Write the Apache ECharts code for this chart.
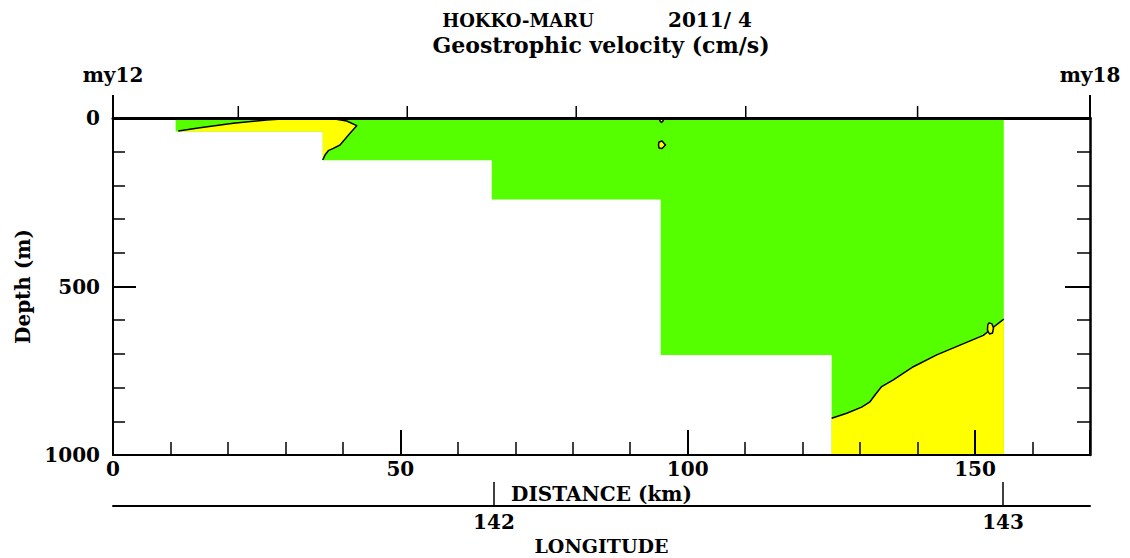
<!DOCTYPE html>
<html>
<head>
<meta charset="utf-8">
<script src="https://cdn.jsdelivr.net/npm/echarts@6/dist/echarts.min.js"></script>
<style>
  html, body { margin: 0; padding: 0; background: #fff; }
  #chart { width: 1130px; height: 558px; }
</style>
</head>
<body>
<div id="chart"></div>
<script>
// Stations along the section (distance from my12, km)
const stationNames = ['my12', 'my13', 'my14', 'my15', 'my16', 'my17', 'my18'];
const stationKm = [0, 21.8, 51.2, 80.6, 110.1, 140.0, 170.0];

// Section boundaries between station columns (km) and bottom depth of each column (m)
const edgeKm = [10.9, 36.5, 65.9, 95.3, 125.05, 155.0];
const bottomM = [40, 125, 242, 703, 1000];

// Zero contour bounding the westward flow near the surface
const westNegKm = [11.36, 15.14, 20.93, 26.74, 31.37, 33.70, 38.33, 40.67, 42.41, 41.24, 39.50, 38.33, 37.46, 36.89, 36.49];
const westNegM  = [38.6, 28.8, 15.7, 5.9, 0.9, 0, 2, 8.9, 22.8, 45.4, 80, 90, 97, 110, 124.6];

// Zero contour bounding the westward flow at depth
const deepNegKm = [125.05, 127.67, 130.27, 131.71, 132.59, 133.75, 135.78, 139.26, 143.33, 147.38, 151.44, 153.18, 155.0];
const deepNegM  = [891, 876, 858, 842, 822, 797, 777, 738, 703, 674, 645, 621, 597];

// Small closed zero contours
const eddySurfKm = [95.09, 95.87, 95.70, 95.44, 95.18];
const eddySurfM  = [0, 0, 8.9, 13.4, 8.9];
const eddyMidKm  = [95.01, 95.53, 96.14, 95.53, 95.01, 94.92];
const eddyMidM   = [71.2, 68.2, 80.1, 90.5, 89.0, 80.1];
const eddyDeepKm = [152.43, 152.95, 153.21, 153.04, 152.51, 152.16, 152.21];
const eddyDeepM  = [608, 611, 623, 638, 641, 629, 614];

// Longitude scale under the distance axis
const lonRange = [141.2515, 143.1709];
const lonTicks = [142, 143];

const GREEN = '#55ff00';
const YELLOW = '#ffff00';
const FONT = 'DejaVu Serif';

// Water-column outline built from column edges and bottom depths
const sectionKm = [edgeKm[0], edgeKm[edgeKm.length - 1]];
const sectionM = [0, 0];
for (let i = bottomM.length - 1; i >= 0; i--) {
  sectionKm.push(edgeKm[i + 1], edgeKm[i]);
  sectionM.push(bottomM[i], bottomM[i]);
}

// Westward patch near the surface: contour closed along the bottom
const westFillKm = westNegKm.concat([edgeKm[1], edgeKm[1], westNegKm[0]]);
const westFillM = westNegM.concat([bottomM[1], bottomM[0], bottomM[0]]);

// Westward patch at depth: contour closed along the bottom
const deepFillKm = deepNegKm.concat([edgeKm[5], edgeKm[4]]);
const deepFillM = deepNegM.concat([1000, 1000]);

const endStations = [stationKm[0], stationKm[stationKm.length - 1]];
const innerStations = stationKm.slice(1, -1);

function shapeSeries(kmArr, mArr, opts) {
  return {
    type: 'custom',
    coordinateSystem: 'cartesian2d',
    xAxisIndex: 0,
    yAxisIndex: 0,
    clip: false,
    silent: true,
    z: opts.z || 2,
    data: [[kmArr[0], mArr[0]]],
    renderItem: function (params, api) {
      const pts = kmArr.map(function (x, i) { return api.coord([x, mArr[i]]); });
      return {
        type: opts.closed ? 'polygon' : 'polyline',
        shape: { points: pts },
        style: {
          fill: opts.fill || null,
          stroke: opts.stroke || null,
          lineWidth: opts.lineWidth || 0,
          lineJoin: 'round'
        }
      };
    }
  };
}

// Station marks live in a thin strip of their own just above the sea surface:
// x is distance (km), y runs from 0 at the surface to 1 at the top of the mark
const stationMarkSeries = {
  type: 'custom',
  coordinateSystem: 'cartesian2d',
  xAxisIndex: 5,
  yAxisIndex: 4,
  clip: false,
  silent: true,
  z: 6,
  data: innerStations.map(function (km) { return [km, 0]; }),
  renderItem: function (params, api) {
    const km = api.value(0);
    const p0 = api.coord([km, 0]);
    const p1 = api.coord([km, 1]);
    return {
      type: 'polyline',
      shape: { points: [p0, p1] },
      style: { fill: null, stroke: '#000', lineWidth: 1.5 }
    };
  }
};

const labelFont = { fontFamily: FONT, fontWeight: 'bold', fontSize: 20, color: '#000' };
const capsFont = { fontFamily: FONT, fontWeight: 'bold', fontSize: 19, color: '#000' };
const plain = function (v) { return String(v); };

const chart = echarts.init(document.getElementById('chart'), null, { renderer: 'svg' });

chart.setOption({
  animation: false,
  backgroundColor: '#fff',
  grid: [
    { left: 113, right: 40, top: 118, bottom: 103, containLabel: false, outerBoundsMode: 'none' },
    { left: 113, right: 40, top: 106, height: 12, containLabel: false, outerBoundsMode: 'none' }
  ],
  graphic: [
    { type: 'text', x: 594, y: 20, z: 10,
      style: { text: 'HOKKO-MARU', align: 'right', verticalAlign: 'middle',
               font: 'bold 18px "' + FONT + '"', fill: '#000' } },
    { type: 'text', x: 668, y: 20, z: 10,
      style: { text: '2011/ 4', align: 'left', verticalAlign: 'middle',
               font: 'bold 20px "' + FONT + '"', fill: '#000' } },
    { type: 'text', x: 601, y: 45, z: 10,
      style: { text: 'Geostrophic velocity (cm/s)', align: 'center', verticalAlign: 'middle',
               font: 'bold 22px "' + FONT + '"', fill: '#000' } }
  ],
  xAxis: [
    { // distance: minor ticks every 10 km
      type: 'value', gridIndex: 0, position: 'bottom', min: 0, max: 170, interval: 10, z: 5,
      axisLine: { onZero: false, lineStyle: { color: '#000', width: 2 } },
      axisTick: { inside: true, length: 13, lineStyle: { color: '#000', width: 1.5 } },
      axisLabel: { show: false }, splitLine: { show: false }
    },
    { // distance: labelled ticks every 50 km
      type: 'value', gridIndex: 0, position: 'bottom', min: 0, max: 170, interval: 50, z: 5,
      axisLine: { show: false, onZero: false },
      axisTick: { inside: true, length: 25, lineStyle: { color: '#000', width: 2 } },
      axisLabel: Object.assign({ margin: 4, formatter: function (v) { return v % 50 === 0 ? String(v) : ''; } }, labelFont),
      splitLine: { show: false },
      name: 'DISTANCE (km)', nameLocation: 'middle', nameGap: 27,
      nameTextStyle: labelFont
    },
    { // sea surface line (depth zero)
      type: 'value', gridIndex: 0, position: 'top', min: 0, max: 170, z: 5,
      axisLine: { onZero: false, lineStyle: { color: '#000', width: 3 } },
      axisTick: { show: false },
      axisLabel: { show: false }, splitLine: { show: false }
    },
    { // end stations, named
      type: 'value', gridIndex: 0, position: 'top', min: 0, max: 170, z: 5,
      axisLine: { show: false, onZero: false },
      axisTick: { inside: false, length: 23, customValues: endStations,
                  lineStyle: { color: '#000', width: 2 } },
      axisLabel: Object.assign({
        margin: 33,
        customValues: endStations,
        formatter: function (v) { const i = stationKm.indexOf(v); return i >= 0 ? stationNames[i] : ''; }
      }, labelFont),
      splitLine: { show: false }
    },
    { // longitude
      type: 'value', gridIndex: 0, position: 'bottom', offset: 51, min: lonRange[0], max: lonRange[1], z: 5,
      axisLine: { onZero: false, lineStyle: { color: '#000', width: 2 } },
      axisTick: { inside: true, length: 24, customValues: lonTicks, lineStyle: { color: '#000', width: 1.5 } },
      axisLabel: Object.assign({ margin: 6, customValues: lonTicks, formatter: plain }, labelFont),
      splitLine: { show: false },
      name: 'LONGITUDE', nameLocation: 'middle', nameGap: 27,
      nameTextStyle: capsFont
    },
    { // distance scale of the station-mark strip
      type: 'value', gridIndex: 1, min: 0, max: 170, show: false
    }
  ],
  yAxis: [
    { // depth: minor ticks every 100 m
      type: 'value', gridIndex: 0, position: 'left', inverse: true, min: 0, max: 1000, interval: 100, z: 5,
      axisLine: { onZero: false, lineStyle: { color: '#000', width: 2 } },
      axisTick: { inside: true, length: 12, lineStyle: { color: '#000', width: 1.5 } },
      axisLabel: { show: false }, splitLine: { show: false }
    },
    { // depth: labelled ticks every 500 m
      type: 'value', gridIndex: 0, position: 'left', inverse: true, min: 0, max: 1000, interval: 500, z: 5,
      axisLine: { show: false, onZero: false },
      axisTick: { inside: true, length: 23, lineStyle: { color: '#000', width: 2 } },
      axisLabel: Object.assign({ margin: 13, formatter: plain }, labelFont),
      splitLine: { show: false },
      name: 'Depth (m)', nameLocation: 'middle', nameGap: 76, nameRotate: 90,
      nameTextStyle: labelFont
    },
    {
      type: 'value', gridIndex: 0, position: 'right', inverse: true, min: 0, max: 1000, interval: 100, z: 5,
      axisLine: { onZero: false, lineStyle: { color: '#000', width: 2.5 } },
      axisTick: { inside: true, length: 13, lineStyle: { color: '#000', width: 1.5 } },
      axisLabel: { show: false }, splitLine: { show: false }
    },
    {
      type: 'value', gridIndex: 0, position: 'right', inverse: true, min: 0, max: 1000, interval: 500, z: 5,
      axisLine: { show: false, onZero: false },
      axisTick: { inside: true, length: 25, lineStyle: { color: '#000', width: 2 } },
      axisLabel: { show: false }, splitLine: { show: false }
    },
    { // height scale of the station-mark strip
      type: 'value', gridIndex: 1, min: 0, max: 1, show: false
    }
  ],
  series: [
    shapeSeries(sectionKm, sectionM, { closed: true, fill: GREEN, z: 1 }),
    shapeSeries(westFillKm, westFillM, { closed: true, fill: YELLOW, z: 2 }),
    shapeSeries(deepFillKm, deepFillM, { closed: true, fill: YELLOW, z: 2 }),
    shapeSeries(westNegKm, westNegM, { closed: false, stroke: '#000', lineWidth: 1.5, z: 3 }),
    shapeSeries(deepNegKm, deepNegM, { closed: false, stroke: '#000', lineWidth: 1.5, z: 3 }),
    shapeSeries(eddySurfKm, eddySurfM, { closed: true, fill: YELLOW, stroke: '#000', lineWidth: 1.5, z: 3 }),
    shapeSeries(eddyMidKm, eddyMidM, { closed: true, fill: YELLOW, stroke: '#000', lineWidth: 1.5, z: 3 }),
    shapeSeries(eddyDeepKm, eddyDeepM, { closed: true, fill: YELLOW, stroke: '#000', lineWidth: 1.5, z: 3 }),
    stationMarkSeries
  ]
});
</script>
</body>
</html>
